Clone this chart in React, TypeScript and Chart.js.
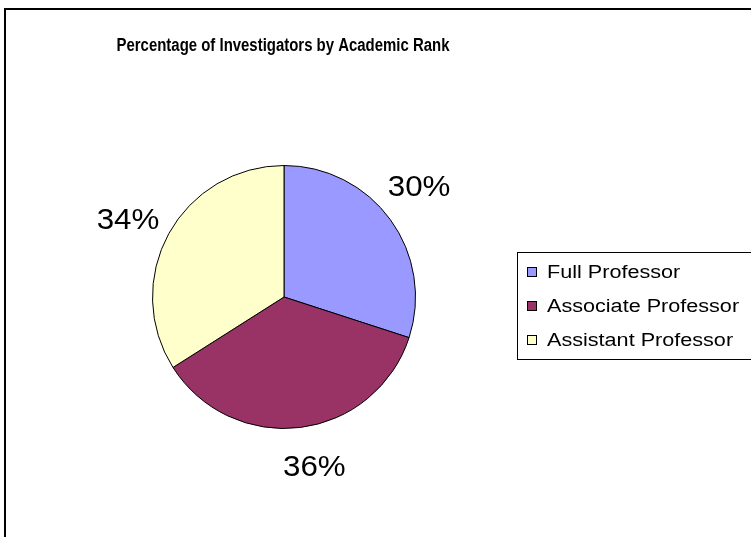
import React, { useEffect, useRef } from "react";
import { Chart, registerables } from "chart.js";

Chart.register(...registerables);

const TITLE = "Percentage of Investigators by Academic Rank";
const categories = ["Full Professor", "Associate Professor", "Assistant Professor"];
const values = [30, 36, 34];
const colors = ["#9999FF", "#993366", "#FFFFCC"];

const FONT = '"Liberation Sans", Arial, sans-serif';

function scaledText(ctx: CanvasRenderingContext2D, text: string, x: number, y: number, sx: number, align: CanvasTextAlign) {
  ctx.save();
  ctx.translate(x, y);
  ctx.scale(sx, 1);
  ctx.textAlign = align;
  ctx.textBaseline = "middle";
  ctx.fillText(text, 0, 0);
  ctx.restore();
}

const decorPlugin = {
  id: "decor",
  beforeDraw(chart: any) {
    const ctx = chart.ctx;
    ctx.save();
    ctx.fillStyle = "#ffffff";
    ctx.fillRect(0, 0, chart.width, chart.height);
    ctx.strokeStyle = "#000000";
    ctx.lineWidth = 2;
    ctx.strokeRect(5, 9, chart.width + 40, chart.height + 40);
    ctx.fillStyle = "#000000";
    ctx.font = `bold 18px ${FONT}`;
    scaledText(ctx, TITLE, 283, 46, 0.83, "center");
    ctx.restore();
  },
  afterDatasetsDraw(chart: any) {
    const ctx = chart.ctx;
    const meta = chart.getDatasetMeta(0);
    const data = chart.data.datasets[0].data as number[];
    const total = data.reduce((a, b) => a + b, 0);
    ctx.save();
    ctx.fillStyle = "#000000";
    ctx.font = `29px ${FONT}`;
    meta.data.forEach((arc: any, i: number) => {
      const p = arc.getProps(["x", "y", "startAngle", "endAngle", "outerRadius"], true);
      const mid = (p.startAngle + p.endAngle) / 2 - 0.05;
      const d = p.outerRadius + 42;
      const x = p.x + Math.cos(mid) * d;
      const y = p.y + Math.sin(mid) * d;
      scaledText(ctx, Math.round((data[i] / total) * 100) + "%", x, y, 1.08, "center");
    });
    // legend
    const lx = 517, ly = 252, lh = 107;
    ctx.lineWidth = 1;
    ctx.strokeStyle = "#000000";
    ctx.strokeRect(lx + 0.5, ly + 0.5, 400, lh);
    ctx.font = `18px ${FONT}`;
    const labels = chart.data.labels as string[];
    const bg = chart.data.datasets[0].backgroundColor as string[];
    labels.forEach((lab, i) => {
      const cy = ly + 20 + i * 34;
      ctx.fillStyle = bg[i];
      ctx.fillRect(527, cy - 5, 9, 9);
      ctx.strokeStyle = "#000000";
      ctx.strokeRect(527.5, cy - 4.5, 9, 9);
      ctx.fillStyle = "#000000";
      scaledText(ctx, lab, 547, cy + 1, 1.2, "left");
    });
    ctx.restore();
  },
};

export default function App() {
  const ref = useRef<HTMLCanvasElement | null>(null);
  useEffect(() => {
    document.body.style.margin = "0";
    const chart = new Chart(ref.current as HTMLCanvasElement, {
      type: "pie",
      data: {
        labels: categories,
        datasets: [
          {
            data: values,
            backgroundColor: colors,
            borderColor: "#000000",
            borderWidth: 1,
            hoverOffset: 0,
            offset: 0,
          },
        ],
      },
      options: {
        animation: false,
        responsive: false,
        layout: { padding: { left: 152, right: 335, top: 165, bottom: 108 } },
        plugins: {
          legend: { display: false },
          title: { display: false },
          tooltip: { enabled: false },
        },
        events: [],
      },
      plugins: [decorPlugin],
    });
    return () => chart.destroy();
  }, []);
  return (
    <div style={{ position: "absolute", left: 0, top: 0, width: 751, height: 537 }}>
      <canvas ref={ref} width={751} height={537} style={{ width: 751, height: 537 }} />
    </div>
  );
}
